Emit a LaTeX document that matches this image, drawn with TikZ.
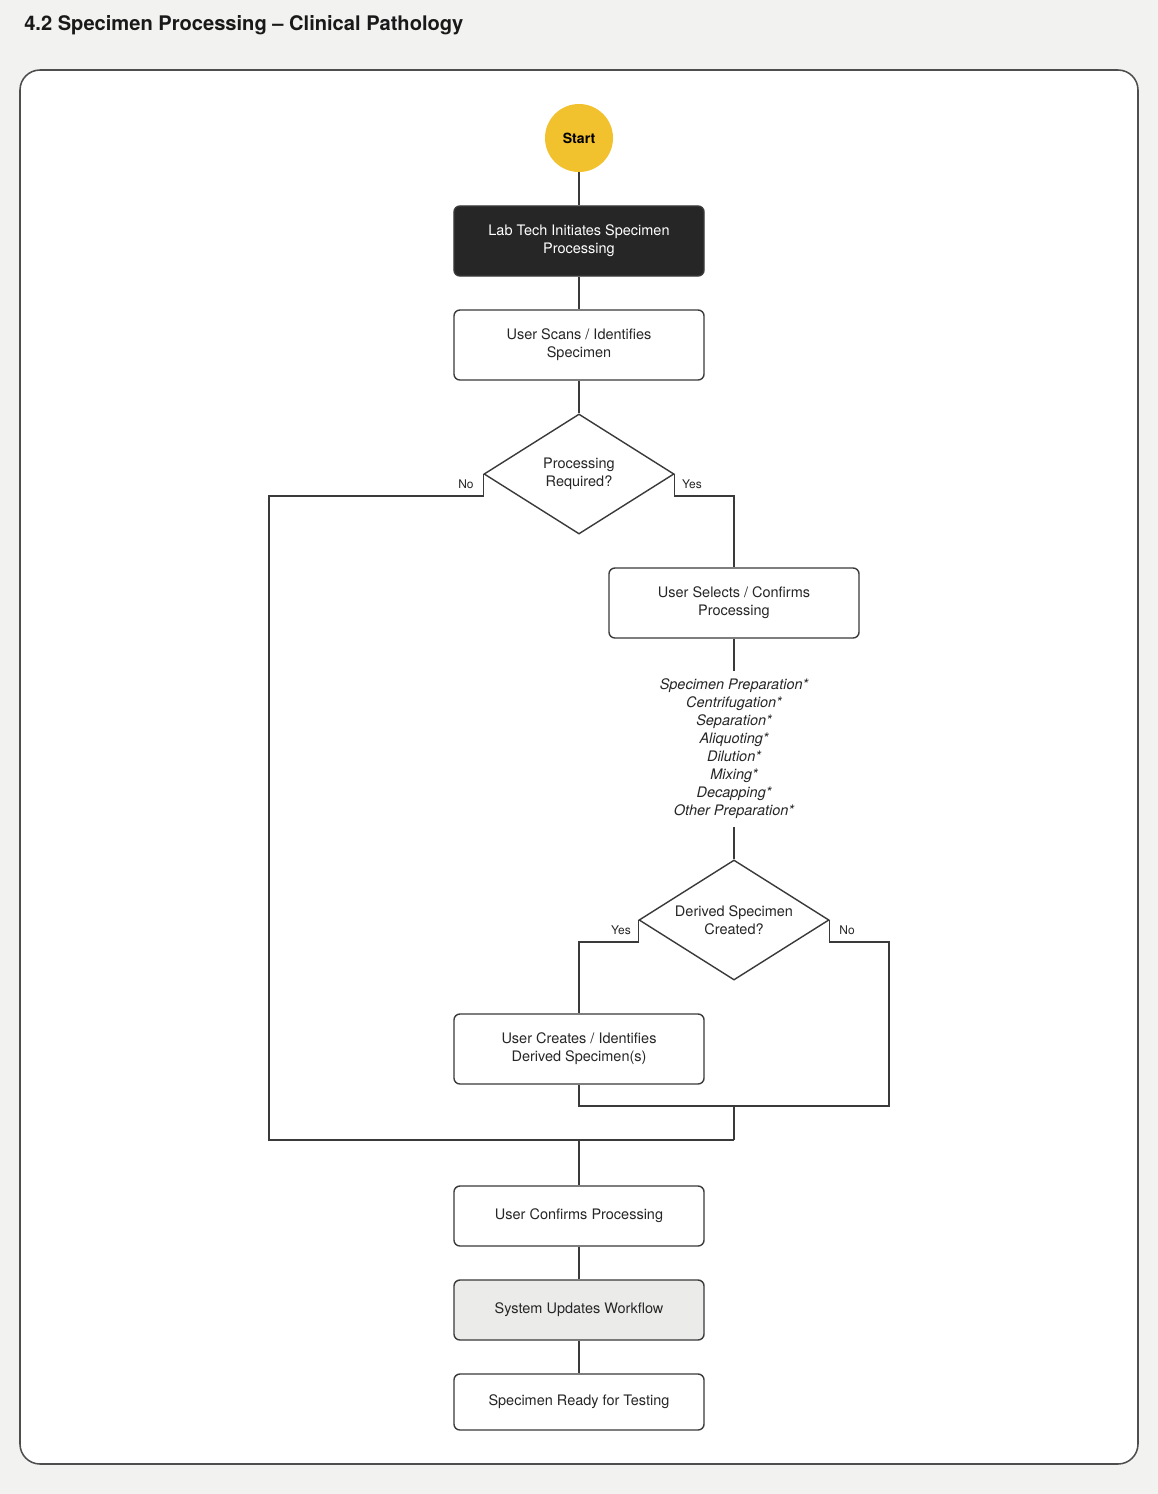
\documentclass[tikz,border=0pt]{standalone}
\usepackage{fontspec}
\setmainfont{TeX Gyre Heros}
\usetikzlibrary{shapes.geometric}
\definecolor{pagebg}{HTML}{F2F2F0}
\definecolor{inkline}{HTML}{3A3A3A}
\definecolor{startyellow}{HTML}{F2C12E}
\definecolor{darkbox}{HTML}{262626}
\definecolor{greybox}{HTML}{EBEBE9}
\tikzset{
	flow/.style={draw=inkline, line width=1pt},
	stepbox/.style={draw=inkline, line width=1pt, fill=white, rounded corners=0.15cm,
		minimum width=6.25cm, minimum height=1.75cm, align=center, font=\fontsize{10.3}{12.8}\selectfont, text=black!85},
	darkstep/.style={stepbox, fill=darkbox, text=white},
	greystep/.style={stepbox, fill=greybox},
	decision/.style={diamond, aspect=1.58, draw=inkline, line width=1pt, fill=white, inner sep=0pt,
		minimum width=4.75cm, minimum height=3cm, align=center, font=\fontsize{10.3}{12.8}\selectfont, text=black!85},
	branchlabel/.style={font=\fontsize{8.5}{10}\selectfont, text=black!85}
}

\begin{document}
\begin{tikzpicture}[x=0.025cm, y=-0.025cm]
			%%%%% START %%%%%
			\useasboundingbox[fill=pagebg] (0, 0) rectangle (1158, 1494);
			\node[anchor=west, inner sep=0pt, font=\fontsize{14.3}{16}\selectfont\bfseries, text=black!90] (title) at (24, 25) {4.2 Specimen Processing -- Clinical Pathology};
			\draw[fill=white, draw=inkline!90, line width=1.1pt, rounded corners=0.5cm] (20, 70) rectangle (1138, 1464);
			
			\node[circle, fill=startyellow, minimum size=1.7cm, inner sep=0pt, font=\fontsize{10}{12}\selectfont\bfseries] (start) at (579, 138) {Start};
			\node[darkstep] (initiates) at (579, 241) {Lab Tech Initiates Specimen\\Processing};
			\node[stepbox] (scans) at (579, 345) {User Scans / Identifies\\Specimen};
			\node[decision] (required) at (579, 474) {Processing\\Required?};
			\node[stepbox] (selects) at (734, 603) {User Selects / Confirms\\Processing};
			\node[align=center, inner sep=0.2cm, font=\fontsize{10.3}{12.8}\selectfont\itshape, text=black!85] (steps) at (734, 749)
				{Specimen Preparation*\\Centrifugation*\\Separation*\\Aliquoting*\\Dilution*\\Mixing*\\Decapping*\\Other Preparation*};
			\node[decision] (derived) at (734, 920) {Derived Specimen\\Created?};
			\node[stepbox] (creates) at (579, 1049) {User Creates / Identifies\\Derived Specimen(s)};
			\node[stepbox, minimum height=1.5cm] (confirms) at (579, 1216) {User Confirms Processing};
			\node[greystep, minimum height=1.5cm] (updates) at (579, 1310) {System Updates Workflow};
			\node[stepbox, minimum height=1.4cm] (ready) at (579, 1402) {Specimen Ready for Testing};
			
			\coordinate (leftrail) at (269, 496);
			\coordinate (yesturn) at (734, 496);
			\coordinate (yesturn2) at (579, 942);
			\coordinate (rightrail) at (889, 942);
			\coordinate (merge2) at (579, 1106);
			\coordinate (drop) at (734, 1106);
			\coordinate (join) at (734, 1140);
			
			\draw[flow] (start) -- (initiates);
			\draw[flow] (initiates) -- (scans);
			\draw[flow] (scans) -- (required);
			\draw[flow] (required.west) |- (leftrail) |- (join);
			\draw[flow] (required.east) |- (yesturn) -- (selects);
			\node[branchlabel] (reqno) at (466, 484) {No};
			\node[branchlabel] (reqyes) at (692, 484) {Yes};
			
			\draw[flow] (selects) -- (steps);
			\draw[flow] (steps) -- (derived);
			\draw[flow] (derived.west) |- (yesturn2) -- (creates);
			\draw[flow] (derived.east) |- (rightrail) |- (merge2) -- (creates);
			\node[branchlabel] (derivedyes) at (621, 930) {Yes};
			\node[branchlabel] (derivedno) at (847, 930) {No};
			\draw[flow] (drop) -- (join);
			
			\draw[flow] (confirms) -- (confirms |- join);
			\draw[flow] (confirms) -- (updates);
			\draw[flow] (updates) -- (ready);
			%%%%% END %%%%%
		\end{tikzpicture}
\end{document}
